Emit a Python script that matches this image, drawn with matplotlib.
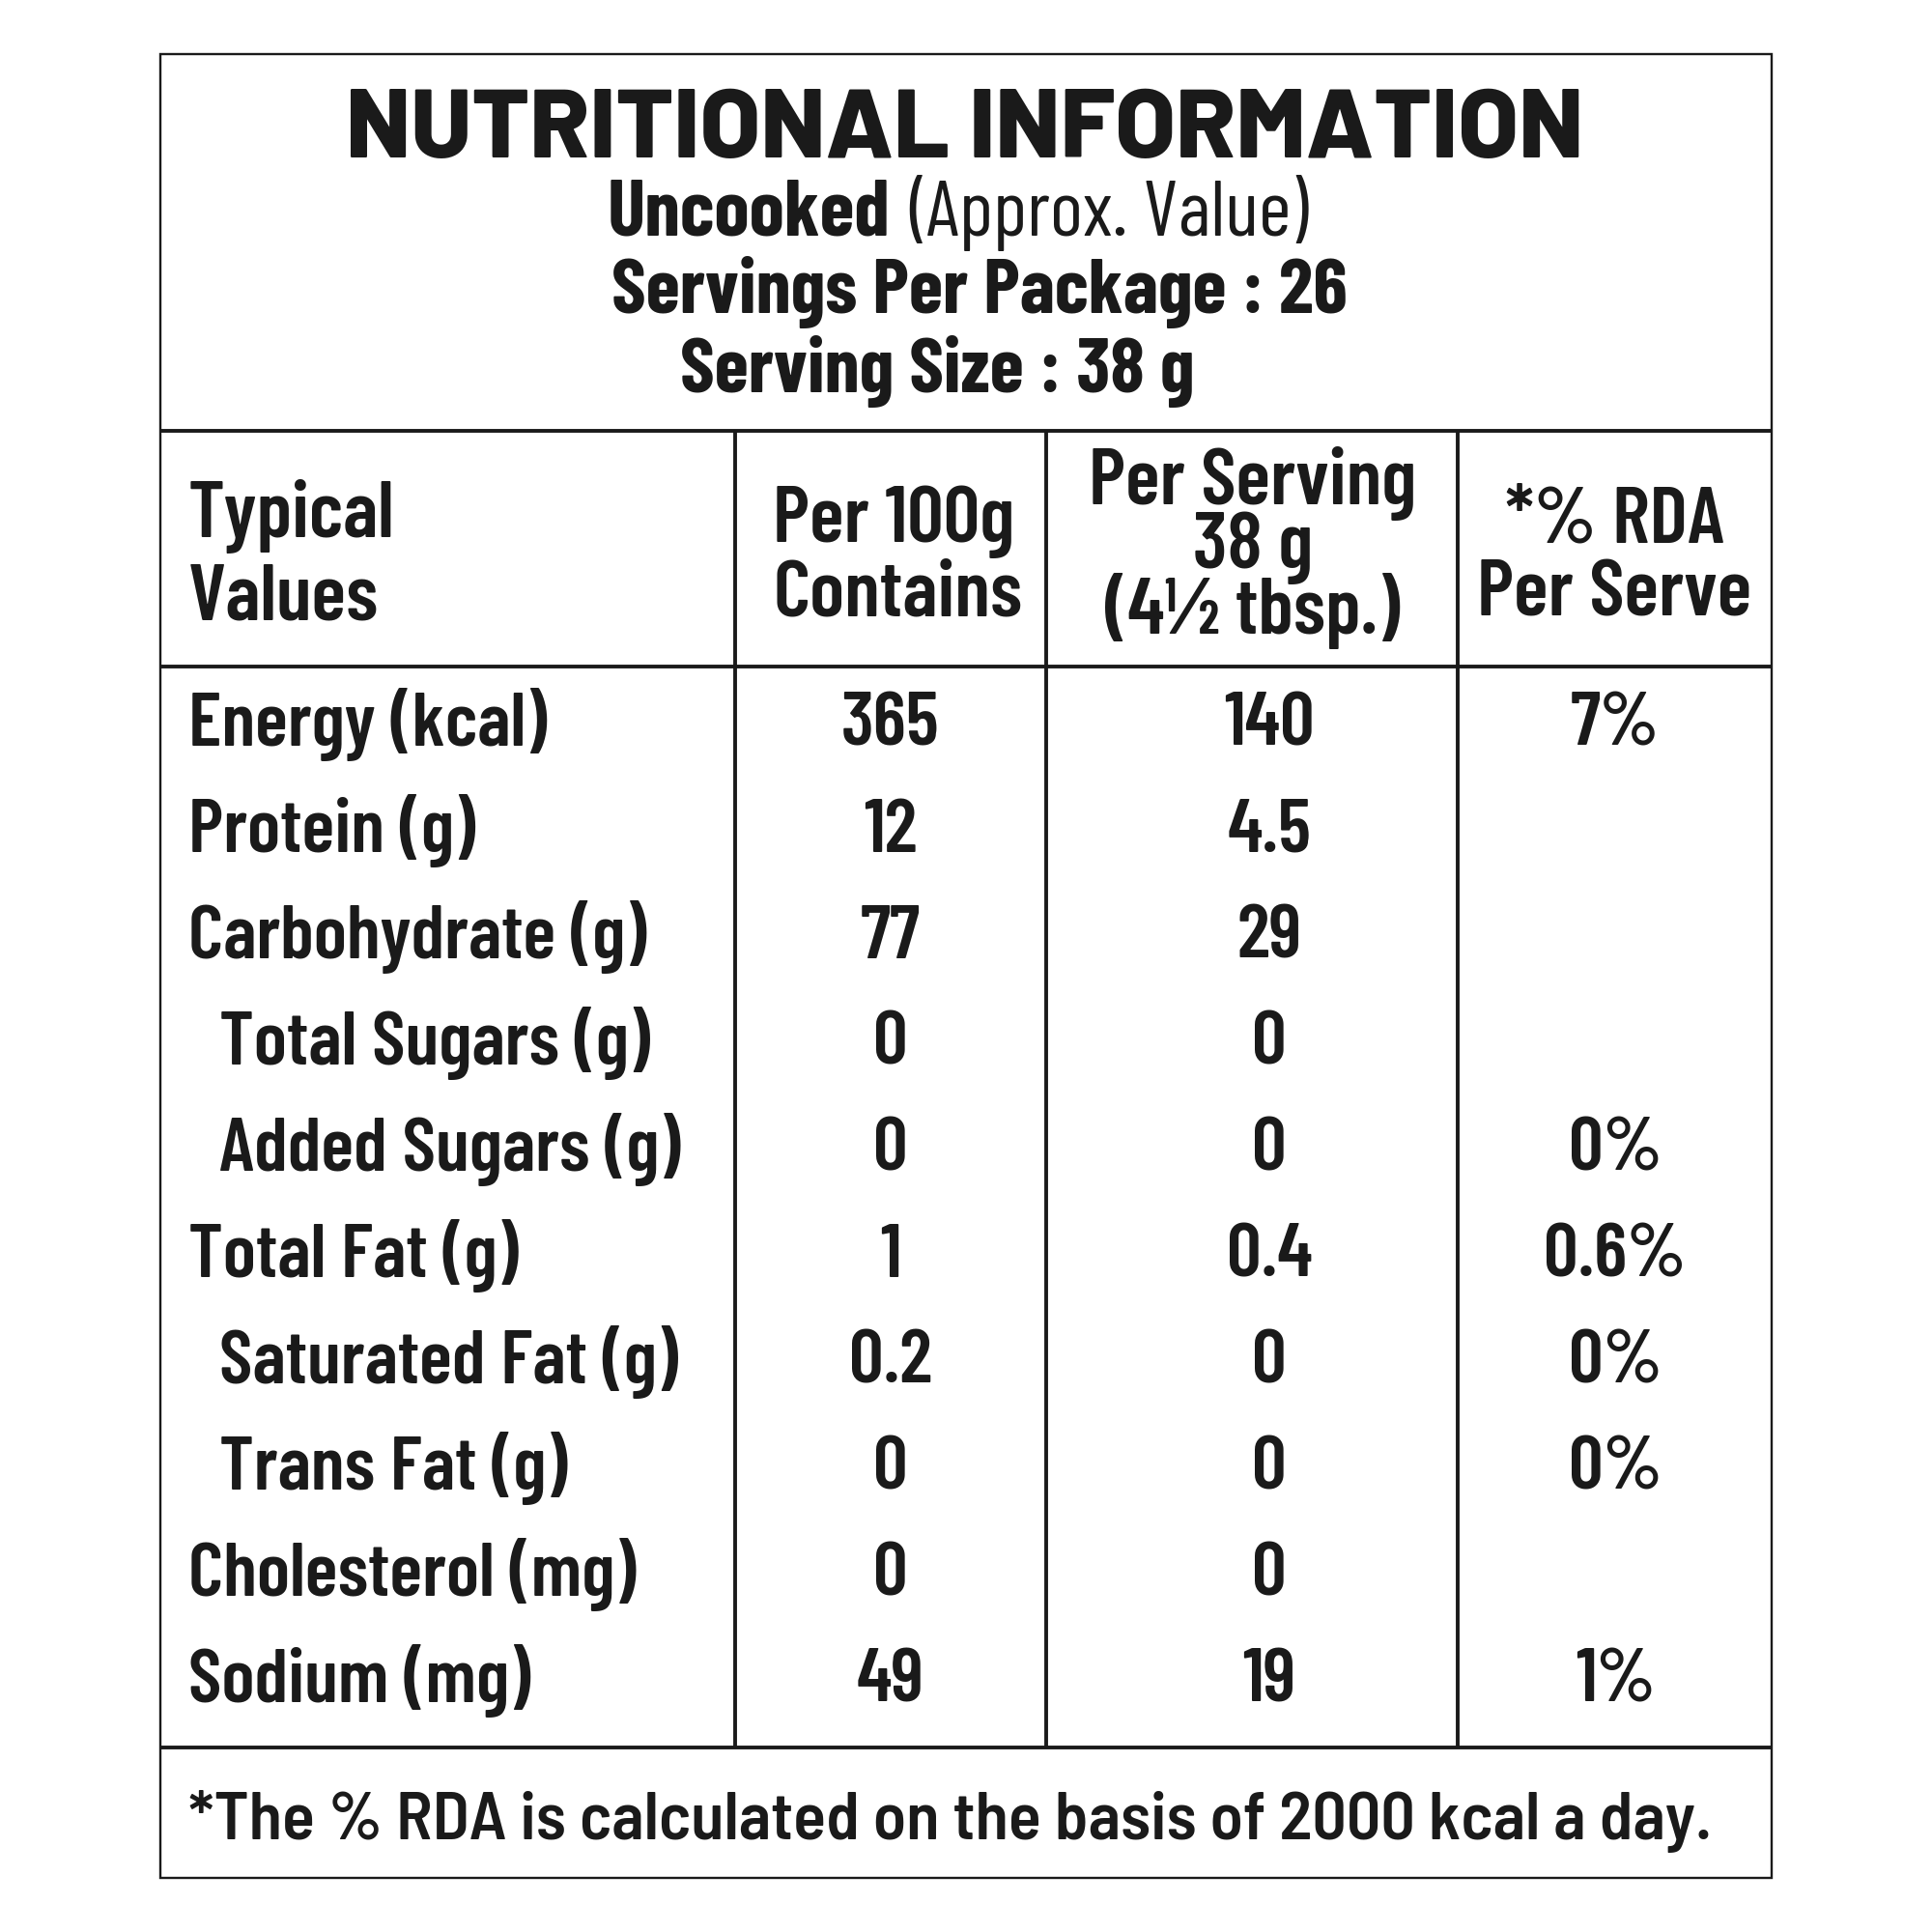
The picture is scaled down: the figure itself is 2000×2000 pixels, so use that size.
import matplotlib
matplotlib.use("Agg")
import matplotlib.pyplot as plt
from matplotlib.patches import Rectangle

# table content
title = "NUTRITIONAL INFORMATION"
sub_bold = "Uncooked"
sub_light = "(Approx. Value)"
servings_line = "Servings Per Package : 26"
size_line = "Serving Size : 38 g"

col_heads = [["Typical", "Values"],
             ["Per 100g", "Contains"],
             ["Per Serving", "38 g", "(4\u00bd tbsp.)"],
             ["*% RDA", "Per Serve"]]

nutrients = ["Energy (kcal)", "Protein (g)", "Carbohydrate (g)", "Total Sugars (g)",
             "Added Sugars (g)", "Total Fat (g)", "Saturated Fat (g)", "Trans Fat (g)",
             "Cholesterol (mg)", "Sodium (mg)"]
sub_item = [False, False, False, True, True, False, True, True, False, False]
per_100g = ["365", "12", "77", "0", "0", "1", "0.2", "0", "0", "49"]
per_serving = ["140", "4.5", "29", "0", "0", "0.4", "0", "0", "0", "19"]
rda = ["7%", "", "", "", "0%", "0.6%", "0%", "0%", "", "1%"]

footnote = "*The % RDA is calculated on the basis of 2000 kcal a day."

INK = "#1a1a1a"
COND = ["Barlow Condensed", "DejaVu Sans"]
SEMI = ["Barlow Semi Condensed", "DejaVu Sans"]
WIDE = ["Barlow", "DejaVu Sans"]

fig = plt.figure(figsize=(10, 10), dpi=200)
ax = fig.add_axes([0, 0, 1, 1])
ax.set_xlim(0, 2000)
ax.set_ylim(2000, 0)
ax.axis("off")


def label(x, y, s, size=28.5, ha="center", weight=600, fam=COND):
    # y is the text baseline
    ax.text(x, y, s, ha=ha, va="baseline", fontsize=size, fontweight=weight,
            family=fam, color=INK)


# frame and rules
left, right, top, bottom = 166, 1834, 56, 1944
ax.add_patch(Rectangle((left, top), right - left, bottom - top, fill=False,
                       edgecolor=INK, linewidth=0.85))
for y in (446, 690, 1809):
    ax.plot([left, right], [y, y], color=INK, linewidth=1.4, solid_capstyle="butt")
for x in (761, 1083, 1509):
    ax.plot([x, x], [446, 1809], color=INK, linewidth=1.4, solid_capstyle="butt")

# header block
label(999, 163, title, size=36.5, weight=800, fam=WIDE)
label(921, 244, sub_bold, size=29.5, ha="right", weight=700)
label(941, 244, sub_light, size=29.5, ha="left", weight=400)
label(1014, 324, servings_line, size=29, weight=700)
label(970, 406, size_line, size=29, weight=700)

# column headings
head_x = [195, 800, 1297, 1671]
head_align = ["left", "left", "center", "center"]
head_y = [[556, 641], [561, 638], [522, 588, 656], [561, 637]]
for lines, x, ha, ys in zip(col_heads, head_x, head_align, head_y):
    for line, y in zip(lines, ys):
        label(x, y, line, size=30, ha=ha)

# body rows
row0, row_h = 772, 110
for i, name in enumerate(nutrients):
    y = row0 + i * row_h
    label(227 if sub_item[i] else 195, y, name, ha="left")
    label(922, y, per_100g[i])
    label(1314, y, per_serving[i])
    if rda[i]:
        label(1672, y, rda[i])

label(195, 1904, footnote, size=25.2, ha="left", fam=SEMI)

fig.savefig("out.png", dpi=200, facecolor="white")
